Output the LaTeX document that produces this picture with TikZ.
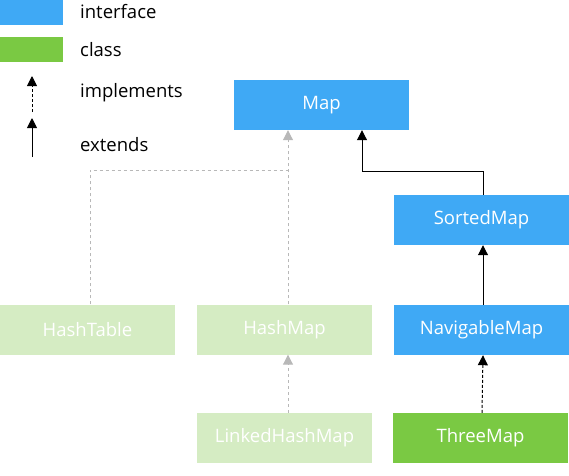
\documentclass[tikz,border=0pt]{standalone}
\usepackage{fontspec}
\setmainfont{Open Sans}
\usetikzlibrary{arrows.meta}
\definecolor{iface}{HTML}{3FA9F5}
\definecolor{cls}{HTML}{7AC943}
\definecolor{pale}{HTML}{D5ECC3}
\definecolor{grayline}{HTML}{B8B8B8}
\definecolor{grayhead}{HTML}{AAAAAA}
\tikzset{
  box/.style={rectangle, minimum width=175pt, minimum height=50pt, inner sep=0pt, text=white, font=\fontsize{18.5}{20}\selectfont},
  ifbox/.style={box, fill=iface},
  clbox/.style={box, fill=cls},
  palebox/.style={box, fill=pale},
  legtext/.style={anchor=west, inner sep=0pt, font=\fontsize{18.5}{20}\selectfont},
  tip/.style={-{Triangle[width=10pt,length=10pt]}},
  extline/.style={tip, black, line width=1pt},
  impline/.style={tip, black, line width=1pt, dash pattern=on 3pt off 2pt},
  grayimp/.style={-{Triangle[width=10pt,length=10pt]}, draw=grayline, line width=1pt, dash pattern=on 3pt off 3pt},
}
\begin{document}
\begin{tikzpicture}[x=1pt,y=-1pt]
\useasboundingbox (0,0) rectangle (569,475);
% legend
\fill[iface] (0,0) rectangle (63,25);
\fill[cls] (0,37) rectangle (63,62);
\node[legtext] (lint) at (80,12) {interface};
\node[legtext] (lcls) at (80,50) {class};
\node[legtext] (limp) at (80,93) {implements};
\node[legtext] (lext) at (80,145) {extends};
\coordinate (li1) at (32,112);
\coordinate (li2) at (32,76);
\coordinate (le1) at (32,157);
\coordinate (le2) at (32,118);
\draw[impline] (li1) -- (li2);
\draw[extline] (le1) -- (le2);
% nodes
\node[ifbox] (map) at (321.5,105) {Map};
\node[ifbox] (sorted) at (481.5,220) {SortedMap};
\node[ifbox] (nav) at (481.5,330) {NavigableMap};
\node[clbox] (three) at (480.5,438) {ThreeMap};
\node[palebox] (hashtable) at (87.5,329.5) {HashTable};
\node[palebox] (hashmap) at (284.5,329.5) {HashMap};
\node[palebox] (linked) at (284.5,438) {LinkedHashMap};
% connectors
\coordinate (j1) at (288,170);
\draw[grayline, line width=1pt, dash pattern=on 3pt off 3pt] ([xshift=2.5pt]hashtable.north) |- (j1);
\draw[grayimp] ([xshift=3.5pt]hashmap.north) -- ([xshift=3.5pt]hashmap.north |- map.south);
\draw[grayimp] ([xshift=3.5pt]linked.north) -- ([xshift=3.5pt]hashmap.south);
\coordinate (j2) at (362,171);
\draw[extline] ([xshift=1.5pt]sorted.north) |- (j2) -- (j2 |- map.south);
\draw[extline] ([xshift=1.5pt]nav.north) -- ([xshift=1.5pt]sorted.south);
\draw[impline] ([xshift=1.5pt]three.north) -- ([xshift=1.5pt]nav.south);
\end{tikzpicture}
\end{document}
